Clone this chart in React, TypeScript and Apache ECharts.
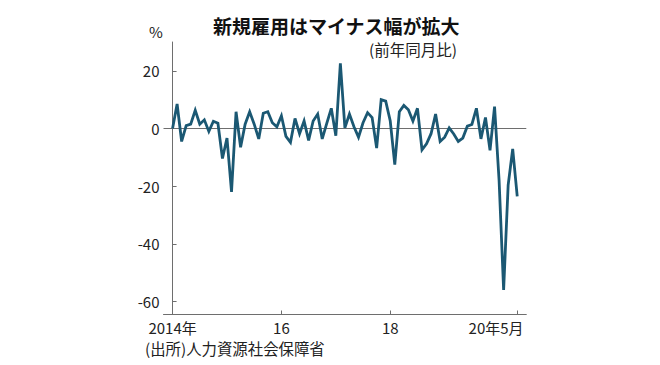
import React, { useEffect, useRef } from "react";
import * as echarts from "echarts";

// Monthly year-on-year change (%) of new urban jobs, Jan 2014 .. May 2020
const values: number[] = [
  0, 8.5, -4.5, 1, 1.5, 6.3, 1.5, 3, -1, 2.5, 1.8, -10.4,
  -3.3, -22, 5.8, -6.5, 1.5, 5.8, 1.5, -3.6, 5.3, 5.8, 2, 0.6,
  4.4, -2.7, -4.8, 3.5, -1.8, 2.6, -4.1, 2.6, 5, -3.6, 1.8, 7,
  -2.5, 22.6, 0.2, 5, 0.6, -3, 2, 5.5, 3.8, -6.8, 10, 9.5,
  2.6, -12.5, 5.8, 8, 6.5, 2.6, 7, -7.4, -5.3, -1.8, 5, -4.5,
  -3, 0.2, -1.9, -4.5, -3.3, 0.8, 1.4, 7, -3.6, 3.8, -7.6, 7.6,
  -18, -56, -19.6, -7.1, -23.5,
];
const xTickIdx: number[] = [0, 24, 48, 76];
const xTickLabels: string[] = ["2014年", "16", "18", "20年5月"];
const yTicks: number[] = [-60, -40, -20, 0, 20];

const title = "新規雇用はマイナス幅が拡大";
const subtitle = "(前年同月比)";
const unit = "%";
const source = "(出所)人力資源社会保障省";

const NUM_FONT = "'Liberation Sans Narrow', 'Noto Sans CJK JP', sans-serif";
const JP_FONT = "'Noto Sans CJK JP', sans-serif";

export default function App() {
  const ref = useRef<HTMLDivElement>(null);
  useEffect(() => {
    if (!ref.current) return;
    const chart = echarts.init(ref.current, undefined, { renderer: "svg" });
    const data = values.map((v, i) => [i, v]);
    const axisColor = "#6e6e6e";
    chart.setOption({
      animation: false,
      backgroundColor: "#ffffff",
      grid: { left: 163.5, right: 133.7, top: 42, bottom: 50.5 },
      xAxis: [
        {
          type: "value",
          min: -2,
          max: 78,
          axisLine: { show: true, onZero: false, lineStyle: { color: axisColor, width: 1 } },
          axisTick: { show: true, inside: true, length: 4, customValues: xTickIdx, lineStyle: { color: axisColor } },
          splitLine: { show: false },
          axisLabel: {
            customValues: xTickIdx.slice(0, 3),
            formatter: (v: number) => xTickLabels[xTickIdx.indexOf(Math.round(v))] ?? "",
            fontFamily: NUM_FONT,
            fontSize: 15,
            color: "#222",
            margin: 5,
          },
        },
        {
          type: "value",
          min: -2,
          max: 78,
          position: "bottom",
          axisLine: { show: false },
          axisTick: { show: false },
          splitLine: { show: false },
          axisLabel: {
            customValues: [77.4],
            formatter: () => xTickLabels[3],
            align: "right",
            fontFamily: NUM_FONT,
            fontSize: 15,
            color: "#222",
            margin: 5,
          },
        },
      ],
      yAxis: {
        type: "value",
        min: -64.5,
        max: 30,
        axisLine: { show: true, lineStyle: { color: axisColor, width: 1 } },
        axisTick: { show: true, inside: true, length: 4, customValues: yTicks, lineStyle: { color: axisColor } },
        splitLine: { show: false },
        axisLabel: {
          customValues: yTicks,
          fontFamily: NUM_FONT,
          fontSize: 15,
          color: "#222",
          margin: 4,
        },
      },
      series: [
        {
          type: "line",
          xAxisIndex: 0,
          data,
          showSymbol: false,
          symbol: "none",
          lineStyle: { color: "#1b5873", width: 2.8, join: "miter" },
          z: 3,
          markLine: {
            silent: true,
            symbol: "none",
            label: { show: false },
            lineStyle: { color: "#6e6e6e", width: 1, type: "solid" },
            data: [{ yAxis: 0 }],
            z: 2,
          },
        },
      ],
      graphic: [
        {
          type: "text",
          left: 213,
          top: 16,
          style: { text: title, font: `bold 19px ${JP_FONT}`, fill: "#111" },
        },
        {
          type: "text",
          left: 369,
          top: 41,
          style: { text: subtitle, font: `15.5px ${JP_FONT}`, fill: "#222" },
        },
        {
          type: "text",
          left: 149,
          top: 24,
          style: { text: unit, font: `15px ${JP_FONT}`, fill: "#222" },
        },
        {
          type: "text",
          left: 145,
          top: 340,
          style: { text: source, font: `15.4px ${JP_FONT}`, fill: "#222" },
        },
      ],
    });
    return () => chart.dispose();
  }, []);
  return <div ref={ref} style={{ width: 660, height: 365, position: "absolute", left: 0, top: 0 }} />;
}
